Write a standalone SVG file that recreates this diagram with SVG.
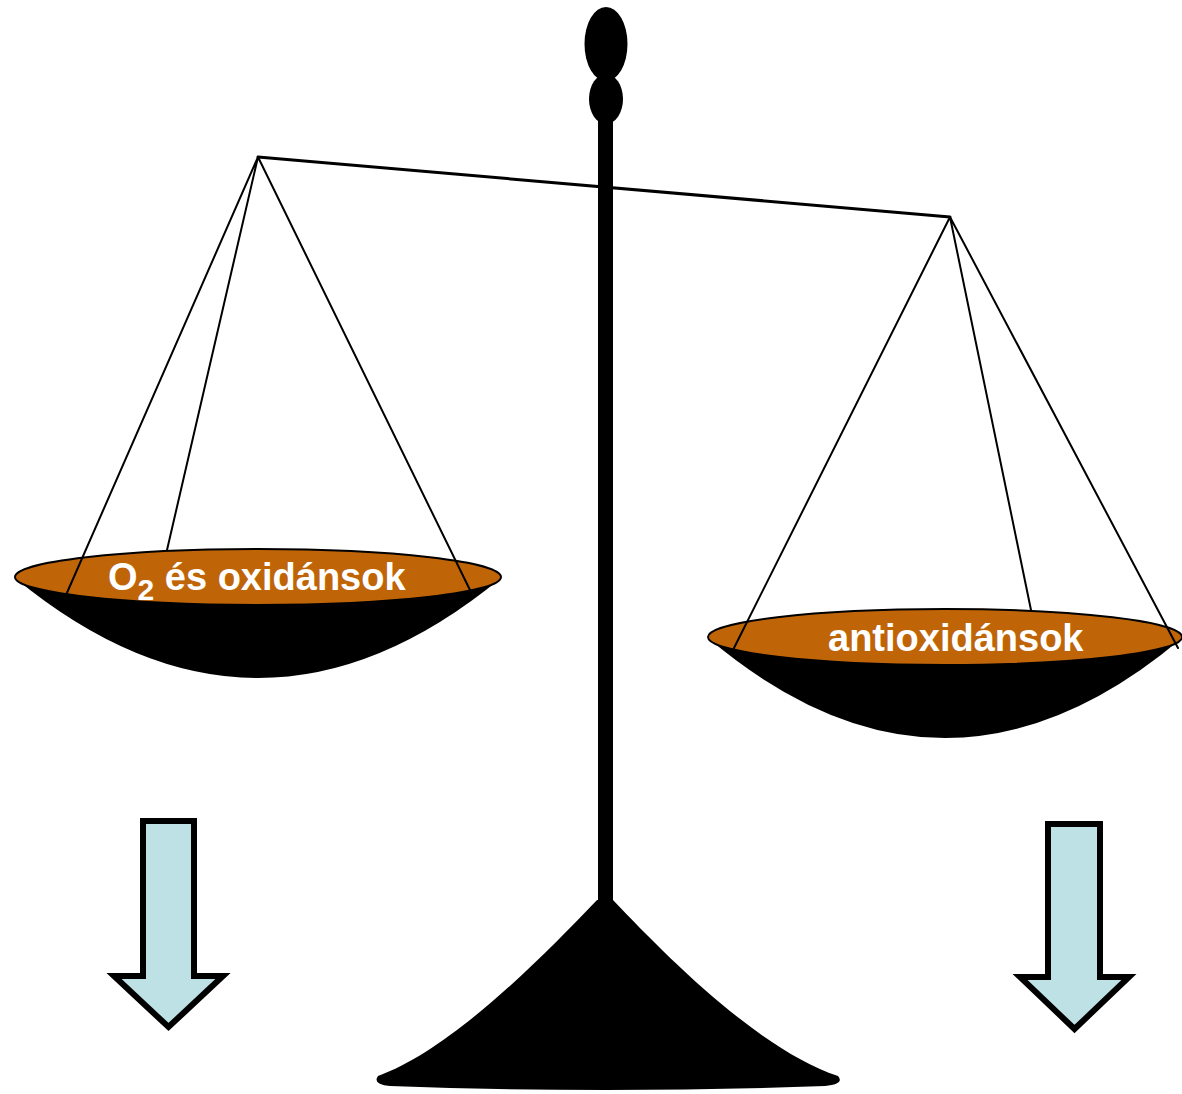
<svg xmlns="http://www.w3.org/2000/svg" width="1182" height="1094" viewBox="0 0 1182 1094">
  <style>
    .ink { fill: #000; }
    .rim { fill: #BF6508; stroke: #000; stroke-width: 2; }
    .cord { stroke: #000; stroke-width: 2; fill: none; stroke-linecap: round; }
    .label { font-family: "Liberation Sans", Arial, sans-serif; font-weight: bold; font-size: 38px; fill: #fff; }
    .arrow { fill: #BDE1E4; stroke: #000; stroke-width: 6; stroke-linejoin: miter; }
  </style>

  <!-- balance column: finial, stem and base -->
  <g id="column">
    <ellipse class="ink" cx="606" cy="44" rx="21.5" ry="37"/>
    <ellipse class="ink" cx="606" cy="99" rx="17" ry="25"/>
    <rect class="ink" x="598" y="108" width="15" height="800"/>
    <path class="ink" d="M597,900 C540,960 450,1050 378,1076 Q372,1084 390,1086 Q605,1094 825,1086 Q845,1084 838,1076 C760,1050 670,960 613,900 Z"/>
  </g>

  <!-- beam -->
  <g id="beam">
    <line x1="258" y1="157" x2="950" y2="217" stroke="#000" stroke-width="3" stroke-linecap="round"/>
  </g>

  <!-- left pan -->
  <g id="pan-left">
    <path class="ink" d="M15,578 Q258,778 501,578 Z"/>
    <ellipse class="rim" cx="258" cy="577" rx="243" ry="28"/>
    <text class="label" x="108" y="590">O<tspan font-size="30" dy="10">2</tspan><tspan dy="-10"> és oxidánsok</tspan></text>
  </g>

  <!-- right pan -->
  <g id="pan-right">
    <path class="ink" d="M708,638 Q945,838 1182,638 Z"/>
    <ellipse class="rim" cx="945" cy="637" rx="237" ry="28"/>
    <text class="label" x="828" y="651">antioxidánsok</text>
  </g>

  <!-- suspension cords -->
  <g id="connectors">
    <path class="cord" d="M258,157 L66,595 M258,157 L167,550 M258,157 L470,590"/>
    <path class="cord" d="M950,217 L733,650 M950,217 L1031,610 M950,217 L1178,648"/>
  </g>

  <!-- down arrows -->
  <g id="arrow-left">
    <path class="arrow" d="M143,821 L194,821 L194,976 L223,976 L168.5,1027 L114,976 L143,976 Z"/>
  </g>
  <g id="arrow-right">
    <path class="arrow" d="M1048,824 L1100,824 L1100,977 L1129,977 L1074.5,1029 L1020,977 L1048,977 Z"/>
  </g>
</svg>
